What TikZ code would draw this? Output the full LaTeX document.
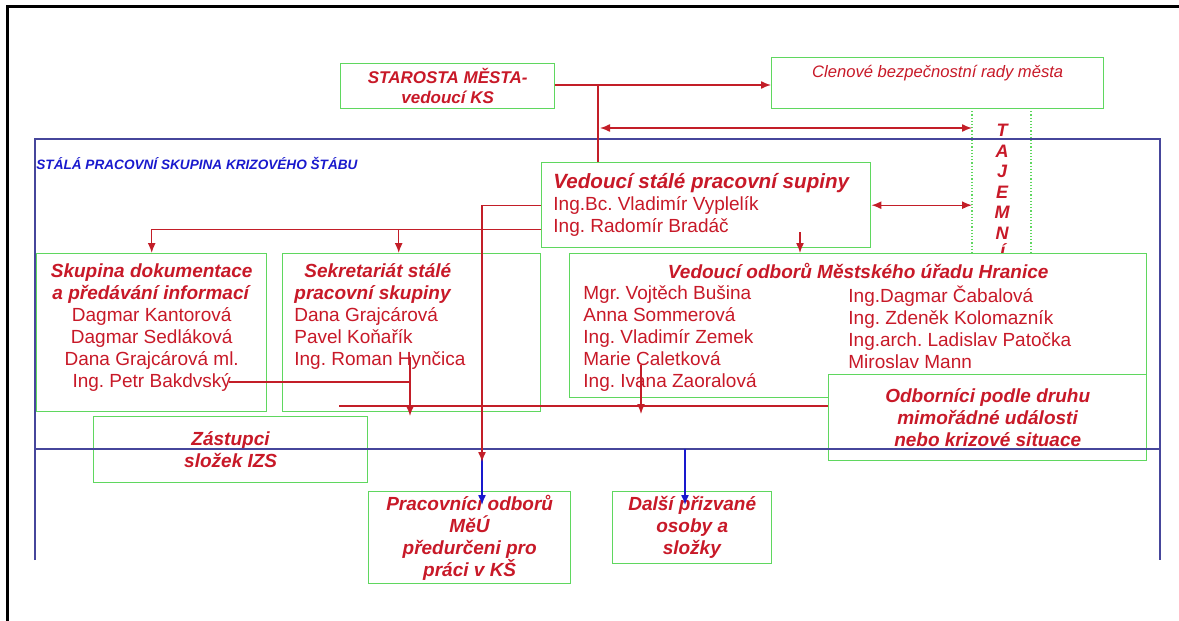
\documentclass[tikz,border=0pt]{standalone}
\usepackage{fontspec}
\setmainfont{Liberation Sans}
\usetikzlibrary{arrows,arrows.meta,positioning}

\definecolor{boxgreen}{RGB}{95,215,95}
\definecolor{txtred}{RGB}{200,25,40}
\definecolor{linered}{RGB}{195,30,40}
\definecolor{frameblue}{RGB}{70,70,155}
\definecolor{titleblue}{RGB}{25,25,205}
\newcommand{\hd}[1]{\textbf{\textit{#1}}}
\frenchspacing

\begin{document}
\begin{tikzpicture}[x=0.5pt,y=-0.5pt,>={Latex[length=5pt,width=4pt]},
  box/.style={draw=boxgreen,line width=0.7pt,fill=white,inner sep=0pt,anchor=north west,
    align=center,text=txtred,font=\fontsize{9.5}{11}\selectfont},
  txt/.style={inner sep=0pt,text=txtred,font=\fontsize{9.5}{11}\selectfont},
  conn/.style={draw=linered,line width=0.7pt},
  bconn/.style={draw=titleblue,line width=0.7pt},
  frame/.style={draw=frameblue,line width=0.8pt}]

  \useasboundingbox (0,0) rectangle (1179,621);
  \draw[line width=1.5pt] (7,621) -- (7,6) -- (1179,6);

  % stala pracovni skupina
  \draw[frame] (35,560) -- (35,139) -- (1160,139) -- (1160,560);
  \node[anchor=west,inner sep=0pt,text=titleblue,font=\fontsize{6.8}{8}\selectfont\bfseries\itshape]
    (ksTitle) at (36,163) {STÁLÁ PRACOVNÍ SKUPINA KRIZOVÉHO ŠTÁBU};

  \coordinate (tajL) at (972,108);
  \coordinate (tajR) at (1031,108);
  \node[txt,anchor=north,align=center,font=\fontsize{9}{10.25}\selectfont\bfseries\itshape]
    (tajemni) at (1002,124) {T\\A\\J\\E\\M\\N\\Í};

  % boxes
  \node[box,minimum width=107pt,minimum height=22.5pt,font=\fontsize{8.5}{10}\selectfont\bfseries\itshape]
    (starosta) at (340,63) {STAROSTA MĚSTA-\\vedoucí KS};
  \node[box,minimum width=166pt,minimum height=25.5pt] (clenove) at (771,57) {};
  \node[txt,below=4pt of clenove.north,font=\fontsize{8.3}{10}\selectfont\itshape]
    (clenoveT) {Clenové bezpečnostní rady města};

  \node[box,minimum width=164.5pt,minimum height=42.5pt] (vedouci) at (541,162) {};
  \node[txt,below right=5.5pt and 6pt of vedouci.north west,align=left] (vedouciT)
    {{\fontsize{10.3}{12}\selectfont\hd{Vedoucí stálé pracovní supiny}}\\
     Ing.Bc. Vladimír Vyplelík\\Ing. Radomír Bradáč};

  \node[box,minimum width=115pt,minimum height=79pt] (skupina) at (36,253) {};
  \node[txt,below=5pt of skupina.north,align=center] (skupinaT)
    {\hd{Skupina dokumentace}\\\hd{a předávání informací}\\Dagmar Kantorová\\
     Dagmar Sedláková\\Dana Grajcárová ml.\\Ing. Petr Bakdvský};

  \node[box,minimum width=129pt,minimum height=79pt] (sekretariat) at (282,253) {};
  \node[txt,below right=5pt and 6pt of sekretariat.north west,align=left] (sekretariatT)
    {\hspace*{5pt}\hd{Sekretariát stálé}\\\hd{pracovní skupiny}\\Dana Grajcárová\\
     Pavel Koňařík\\Ing. Roman Hynčica};

  \node[box,minimum width=288.5pt,minimum height=72pt] (odbory) at (569,253) {};
  \node[txt,below=5pt of odbory.north] (odboryT) {\hd{Vedoucí odborů Městského úřadu Hranice}};
  \node[txt,below right=16pt and 7pt of odbory.north west,align=left] (odboryL)
    {Mgr. Vojtěch Bušina\\Anna Sommerová\\Ing. Vladimír Zemek\\Marie Caletková\\Ing. Ivana Zaoralová};
  \node[txt,below right=16pt and 139.5pt of odbory.north west,align=left] (odboryR)
    {Ing.Dagmar Čabalová\\Ing. Zdeněk Kolomazník\\Ing.arch. Ladislav Patočka\\Miroslav Mann};

  \node[box,minimum width=159pt,minimum height=43pt] (odbornici) at (828,374)
    {\hd{Odborníci podle druhu}\\\hd{mimořádné události}\\\hd{nebo krizové situace}};
  \node[box,minimum width=137pt,minimum height=33pt] (zastupci) at (93,416)
    {\hd{Zástupci}\\\hd{složek IZS}};
  \node[box,minimum width=101pt,minimum height=46pt] (pracovnici) at (368,491)
    {\hd{Pracovníci odborů}\\\hd{MěÚ}\\\hd{předurčeni pro}\\\hd{práci v KŠ}};
  \node[box,minimum width=79.5pt,minimum height=36pt] (dalsi) at (612,491)
    {\hd{Další přizvané}\\\hd{osoby a}\\\hd{složky}};

  \draw[boxgreen,densely dotted,line width=0.6pt] (tajL) -- (tajL |- odbory.north);
  \draw[boxgreen,densely dotted,line width=0.6pt] (tajR) -- (tajR |- odbory.north);
  \draw[frame] (35,449) -- (1160,449);

  % connectors
  \coordinate (kn) at (598,85);
  \coordinate (sec) at (600,128);
  \coordinate (v2) at ([yshift=-12pt]vedouci.west);
  \coordinate (vd) at (800,232);
  \coordinate (redtip) at (482,462);
  \coordinate (bl1) at (482,449);
  \coordinate (bt1) at (482,505);
  \coordinate (bl2) at (685,449);
  \coordinate (bt2) at (685,505);
  \coordinate (bak) at (229,382);
  \coordinate (hyn) at (410,357);
  \coordinate (lng) at (339,406);
  \coordinate (cal) at (641,365);
  \coordinate (caltip) at (641,414);

  \draw[bconn,->] (bl1) -- (bt1);
  \draw[bconn,->] (bl2) -- (bt2);
  \draw[conn,->] (starosta.east |- kn) -- (clenove.west |- kn);
  \draw[conn] (kn) -- (kn |- vedouci.north);
  \draw[conn,<->] (sec) -- (sec -| tajL);
  \draw[conn,<->] (vedouci.east) -- (vedouci.east -| tajL);
  \draw[conn,->] (vedouci.west) -| (redtip);
  \draw[conn,->] (v2) -| (skupina.north);
  \draw[conn,->] ([xshift=-6.5pt]sekretariat.north |- v2) -- ([xshift=-6.5pt]sekretariat.north);
  \draw[conn,->] (vd) -- (vd |- odbory.north);
  \draw[conn] (bak) -- (bak -| hyn);
  \draw[conn,->] (hyn) -- (hyn |- zastupci.north);
  \draw[conn] (lng) -- (lng -| odbornici.west);
  \draw[conn,->] (cal) -- (caltip);
\end{tikzpicture}
\end{document}
